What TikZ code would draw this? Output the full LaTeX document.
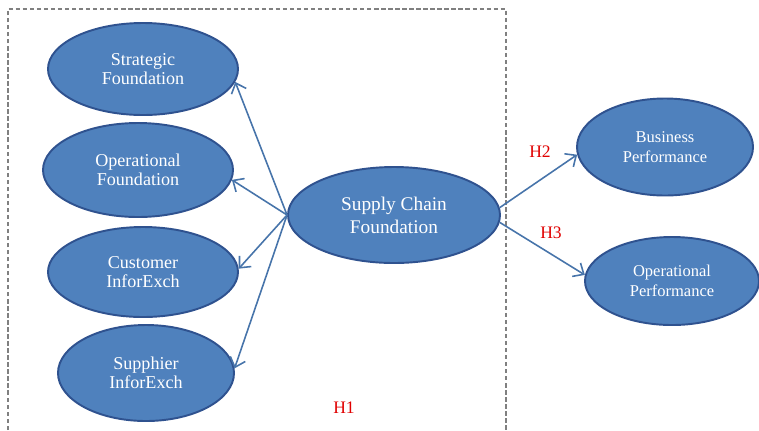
\documentclass[tikz,border=0pt]{standalone}
\usepackage{fontspec}
\setmainfont{Liberation Serif}
\usetikzlibrary{shapes.geometric,arrows.meta}
\definecolor{ovalblue}{HTML}{4F81BD}
\definecolor{ovalline}{HTML}{2F528F}
\definecolor{hred}{HTML}{E00000}
\begin{document}
\begin{tikzpicture}[x=0.02cm,y=-0.02cm,
  oval/.style={ellipse, fill=ovalblue, draw=ovalline, line width=1.1pt, text=white,
    align=center, inner sep=0pt, font=\fontsize{10.3}{11}\selectfont},
  link/.style={-{Straight Barb[length=5pt,width=9pt]}, draw=ovalblue!90!black, line width=0.9pt},
  hyp/.style={text=hred, font=\fontsize{10}{12}\selectfont}]
\useasboundingbox (0,0) rectangle (759,430);
\draw[gray, line width=0.6pt, dash pattern=on 2.5pt off 1.5pt] (8,430) -- (8,9) -- (506,9) -- (506,430);
\node[oval, minimum width=190*0.02cm, minimum height=92*0.02cm] (sf) at (143,69) {Strategic\\Foundation};
\node[oval, minimum width=190*0.02cm, minimum height=94*0.02cm] (of) at (138,170) {Operational\\Foundation};
\node[oval, minimum width=190*0.02cm, minimum height=90*0.02cm] (ci) at (143,272) {Customer\\InforExch};
\node[oval, minimum width=176*0.02cm, minimum height=96*0.02cm] (si) at (146,373) {Supphier\\InforExch};
\node[oval, minimum width=212*0.02cm, minimum height=96*0.02cm, font=\fontsize{11}{13}\selectfont] (scf) at (394,215) {Supply Chain\\Foundation};
\node[oval, minimum width=176*0.02cm, minimum height=97*0.02cm, font=\fontsize{9.4}{11}\selectfont] (bp) at (665,147) {Business\\Performance};
\node[oval, minimum width=174*0.02cm, minimum height=88*0.02cm, font=\fontsize{9.4}{11}\selectfont] (op) at (672,281) {Operational\\Performance};
\draw[link] (scf.west) -- (sf.-8);
\draw[link] (scf.west) -- (of.-6);
\draw[link] (scf.west) -- (ci.2);
\draw[link] (scf.west) -- (si.3);
\draw[link] (scf.4) -- (bp.185);
\draw[link] (scf.-4) -- (op.176);
\node[hyp] (h1) at (344,408) {H1};
\node[hyp] (h2) at (540,152) {H2};
\node[hyp] (h3) at (551,233) {H3};
\end{tikzpicture}
\end{document}
